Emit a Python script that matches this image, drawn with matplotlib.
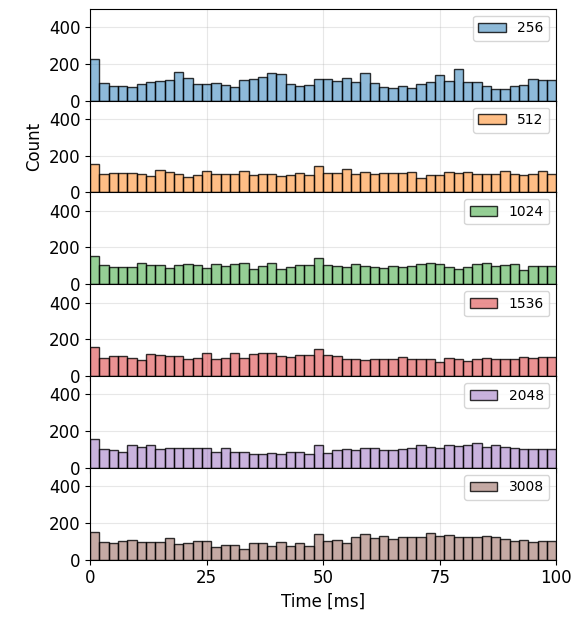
import numpy as np
import matplotlib
matplotlib.use("Agg")
import matplotlib.pyplot as plt
from matplotlib.colors import to_rgba

# histogram counts per 2 ms bin (0..100 ms)
counts_256 = [224, 95, 80, 78, 76, 90, 100, 104, 112, 155, 122, 92, 88, 96, 84, 76, 113, 116, 130, 152,
              145, 92, 80, 85, 118, 116, 108, 122, 100, 151, 95, 73, 67, 82, 69, 91, 100, 138, 104, 173,
              100, 100, 82, 62, 62, 82, 87, 115, 113, 112]
counts_512 = [157, 98, 105, 105, 107, 102, 87, 124, 109, 102, 83, 93, 117, 102, 102, 102, 115, 93, 98, 98,
              87, 93, 105, 93, 143, 105, 105, 126, 98, 111, 98, 105, 105, 105, 111, 80, 93, 93, 111, 105,
              111, 98, 98, 102, 117, 98, 93, 98, 117, 98]
counts_1024 = [155, 105, 96, 93, 96, 118, 105, 105, 87, 105, 111, 105, 87, 111, 100, 111, 118, 82, 100, 118,
               82, 96, 105, 105, 142, 105, 100, 93, 111, 100, 96, 87, 100, 96, 100, 111, 118, 111, 96, 82,
               96, 111, 118, 100, 105, 111, 78, 100, 100, 98]
counts_1536 = [158, 96, 109, 109, 100, 87, 122, 116, 109, 109, 95, 98, 124, 91, 100, 127, 98, 122, 127, 124,
               109, 104, 115, 115, 149, 113, 109, 91, 95, 87, 91, 95, 95, 105, 95, 95, 95, 76, 96, 95,
               82, 95, 98, 95, 95, 95, 104, 98, 104, 104]
counts_2048 = [158, 104, 100, 89, 127, 113, 122, 104, 107, 107, 107, 109, 107, 85, 107, 85, 89, 76, 76, 80,
               76, 89, 84, 73, 127, 80, 95, 104, 95, 109, 109, 100, 95, 104, 109, 122, 113, 109, 127, 118,
               127, 135, 113, 127, 113, 109, 104, 104, 104, 104]
counts_3008 = [149, 95, 91, 100, 105, 98, 98, 98, 118, 87, 91, 104, 100, 69, 78, 78, 58, 89, 91, 76,
               95, 76, 89, 76, 140, 104, 105, 91, 124, 142, 118, 127, 115, 124, 124, 124, 145, 131, 136, 122,
               122, 122, 127, 124, 113, 100, 109, 98, 100, 100]

labels = ["256", "512", "1024", "1536", "2048", "3008"]
series = [counts_256, counts_512, counts_1024, counts_1536, counts_2048, counts_3008]
colors = ["tab:blue", "tab:orange", "tab:green", "tab:red", "tab:purple", "tab:brown"]

bin_width = 2
edges = np.arange(0, 100, bin_width)

fig, axes = plt.subplots(len(series), 1, sharex=True, figsize=(5.77, 6.24), dpi=100)
fig.subplots_adjust(left=0.156, right=0.964, top=0.986, bottom=0.103, hspace=0)

for ax, counts, lab, c in zip(axes, series, labels, colors):
    ax.bar(edges, counts, width=bin_width, align="edge",
           facecolor=to_rgba(c, 0.5), edgecolor=(0, 0, 0, 0.8), linewidth=1, label=lab)
    ax.set_ylim(0, 500)
    ax.set_yticks([0, 200, 400])
    ax.set_xlim(0, 100)
    ax.set_axisbelow(True)
    ax.grid(alpha=0.3)
    ax.tick_params(labelsize=12)
    ax.legend(loc="upper right", fontsize=10)

axes[-1].set_xticks([0, 25, 50, 75, 100])
axes[-1].set_xlabel("Time [ms]", fontsize=12)
axes[1].set_ylabel("Count", fontsize=12)

plt.savefig("out.png")
